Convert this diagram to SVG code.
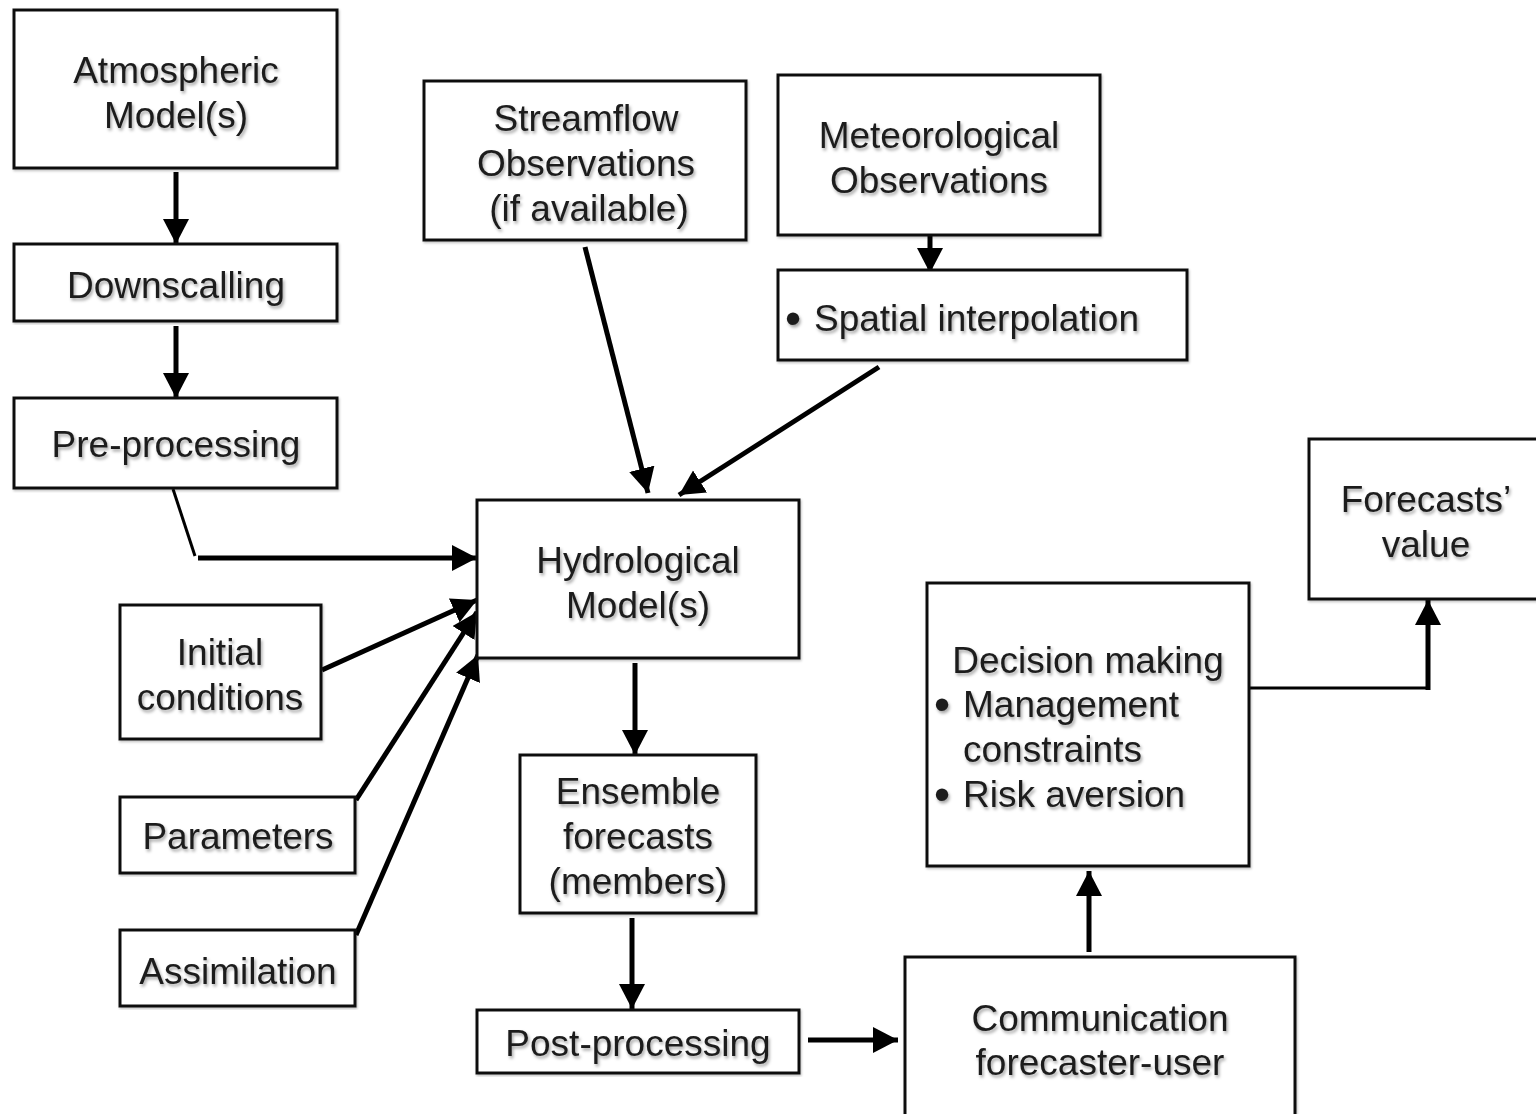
<svg xmlns="http://www.w3.org/2000/svg" width="1536" height="1114" viewBox="0 0 1536 1114">
<style>
  .box { fill: #ffffff; stroke: #111111; stroke-width: 3; }
  .t { font-family: "Liberation Sans", Arial, sans-serif; font-size: 37px; fill: #1c1c1c; text-anchor: middle; }
  .tl { font-family: "Liberation Sans", Arial, sans-serif; font-size: 37px; fill: #1c1c1c; text-anchor: start; }
  .b { font-size: 46px; }
  .c { fill: none; stroke: #000000; stroke-width: 5; stroke-linecap: butt; stroke-linejoin: miter; }
  .thin { fill: none; stroke: #000000; stroke-width: 3; }
</style>
<defs>
  <filter id="sh" x="-10%" y="-20%" width="120%" height="150%">
    <feDropShadow dx="1.5" dy="2.5" stdDeviation="1.6" flood-color="#000000" flood-opacity="0.35"/>
  </filter>
  <filter id="bsh" x="-5%" y="-5%" width="110%" height="110%">
    <feDropShadow dx="1" dy="1.5" stdDeviation="1.2" flood-color="#000000" flood-opacity="0.25"/>
  </filter>
  <marker id="ah" markerUnits="userSpaceOnUse" markerWidth="28" markerHeight="28" refX="25" refY="13" orient="auto">
    <path d="M0,0 L25,13 L0,26 Z" fill="#000000"/>
  </marker>
</defs>
<rect width="1536" height="1114" fill="#ffffff"/>

<g id="connectors">
  <line class="c" x1="176" y1="172" x2="176" y2="244" marker-end="url(#ah)"/>
  <line class="c" x1="176" y1="326" x2="176" y2="398" marker-end="url(#ah)"/>
  <polyline class="thin" points="173,489 195,556"/>
  <line class="c" x1="198" y1="558" x2="477" y2="558" marker-end="url(#ah)"/>
  <line class="c" x1="585" y1="247" x2="648" y2="493" marker-end="url(#ah)"/>
  <line class="c" x1="879" y1="367" x2="679" y2="495" marker-end="url(#ah)"/>
  <line class="c" x1="930" y1="235" x2="930" y2="273" marker-end="url(#ah)"/>
  <line class="c" x1="322" y1="670" x2="477" y2="600" marker-end="url(#ah)"/>
  <line class="c" x1="356" y1="800" x2="477" y2="612" marker-end="url(#ah)"/>
  <line class="c" x1="356" y1="935" x2="478" y2="655" marker-end="url(#ah)"/>
  <line class="c" x1="635" y1="663" x2="635" y2="755" marker-end="url(#ah)"/>
  <line class="c" x1="632" y1="918" x2="632" y2="1009" marker-end="url(#ah)"/>
  <line class="c" x1="808" y1="1040" x2="898" y2="1040" marker-end="url(#ah)"/>
  <line class="c" x1="1089" y1="952" x2="1089" y2="871" marker-end="url(#ah)"/>
  <polyline class="thin" points="1249,688 1428,688"/>
  <line class="c" x1="1428" y1="690" x2="1428" y2="600" marker-end="url(#ah)"/>
</g>

<g id="atmospheric">
  <rect class="box" x="14" y="10" width="323" height="158" filter="url(#bsh)"/>
  <text class="t" x="176" y="83" filter="url(#sh)">Atmospheric</text>
  <text class="t" x="176" y="128" filter="url(#sh)">Model(s)</text>
</g>
<g id="downscalling">
  <rect class="box" x="14" y="244" width="323" height="77" filter="url(#bsh)"/>
  <text class="t" x="176" y="298" filter="url(#sh)">Downscalling</text>
</g>
<g id="preprocessing">
  <rect class="box" x="14" y="398" width="323" height="90" filter="url(#bsh)"/>
  <text class="t" x="176" y="457" filter="url(#sh)">Pre-processing</text>
</g>
<g id="streamflow">
  <rect class="box" x="424" y="81" width="322" height="159" filter="url(#bsh)"/>
  <text class="t" x="586" y="131" filter="url(#sh)">Streamflow</text>
  <text class="t" x="586" y="176" filter="url(#sh)">Observations</text>
  <text class="t" x="589" y="221" filter="url(#sh)">(if available)</text>
</g>
<g id="meteorological">
  <rect class="box" x="778" y="75" width="322" height="160" filter="url(#bsh)"/>
  <text class="t" x="939" y="148" filter="url(#sh)">Meteorological</text>
  <text class="t" x="939" y="193" filter="url(#sh)">Observations</text>
</g>
<g id="spatial">
  <rect class="box" x="778" y="270" width="409" height="90" filter="url(#bsh)"/>
  <text class="tl" x="785" y="334" filter="url(#sh)"><tspan class="b">•</tspan><tspan x="814" y="331">Spatial interpolation</tspan></text>
</g>
<g id="hydrological">
  <rect class="box" x="477" y="500" width="322" height="158" filter="url(#bsh)"/>
  <text class="t" x="638" y="573" filter="url(#sh)">Hydrological</text>
  <text class="t" x="638" y="618" filter="url(#sh)">Model(s)</text>
</g>
<g id="initial">
  <rect class="box" x="120" y="605" width="201" height="134" filter="url(#bsh)"/>
  <text class="t" x="220" y="665" filter="url(#sh)">Initial</text>
  <text class="t" x="220" y="710" filter="url(#sh)">conditions</text>
</g>
<g id="parameters">
  <rect class="box" x="120" y="797" width="235" height="76" filter="url(#bsh)"/>
  <text class="t" x="238" y="849" filter="url(#sh)">Parameters</text>
</g>
<g id="assimilation">
  <rect class="box" x="120" y="930" width="235" height="76" filter="url(#bsh)"/>
  <text class="t" x="238" y="984" filter="url(#sh)">Assimilation</text>
</g>
<g id="ensemble">
  <rect class="box" x="520" y="755" width="236" height="158" filter="url(#bsh)"/>
  <text class="t" x="638" y="804" filter="url(#sh)">Ensemble</text>
  <text class="t" x="638" y="849" filter="url(#sh)">forecasts</text>
  <text class="t" x="638" y="894" filter="url(#sh)">(members)</text>
</g>
<g id="postprocessing">
  <rect class="box" x="477" y="1010" width="322" height="63" filter="url(#bsh)"/>
  <text class="t" x="638" y="1056" filter="url(#sh)">Post-processing</text>
</g>
<g id="communication">
  <rect class="box" x="905" y="957" width="390" height="170" filter="url(#bsh)"/>
  <text class="t" x="1100" y="1031" filter="url(#sh)">Communication</text>
  <text class="t" x="1100" y="1075" filter="url(#sh)">forecaster-user</text>
</g>
<g id="decision">
  <rect class="box" x="927" y="583" width="322" height="283" filter="url(#bsh)"/>
  <text class="t" x="1088" y="673" filter="url(#sh)">Decision making</text>
  <text class="tl" x="934" y="720" filter="url(#sh)"><tspan class="b">•</tspan><tspan x="963" y="717">Management</tspan></text>
  <text class="tl" x="963" y="762" filter="url(#sh)">constraints</text>
  <text class="tl" x="934" y="810" filter="url(#sh)"><tspan class="b">•</tspan><tspan x="963" y="807">Risk aversion</tspan></text>
</g>
<g id="forecastsvalue">
  <rect class="box" x="1309" y="439" width="240" height="160" filter="url(#bsh)"/>
  <text class="t" x="1426" y="512" filter="url(#sh)">Forecasts’</text>
  <text class="t" x="1426" y="557" filter="url(#sh)">value</text>
</g>
</svg>
